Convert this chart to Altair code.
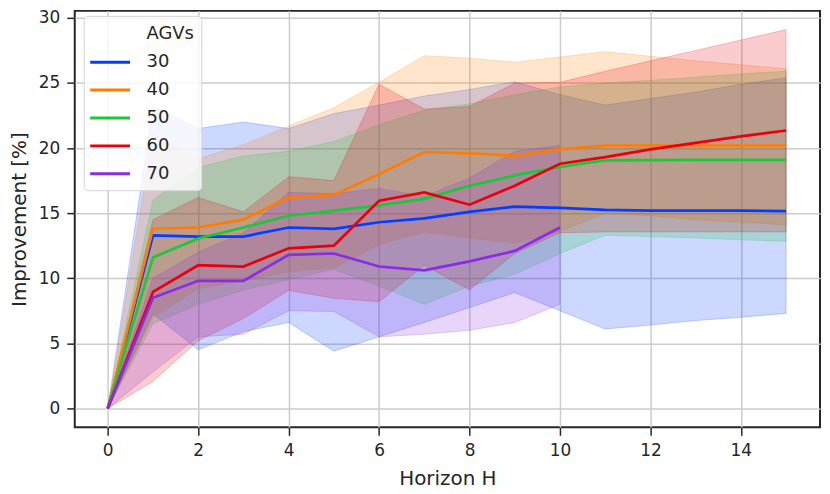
import altair as alt
import pandas as pd

# Horizon values
horizon = list(range(16))
agv_groups = ["30", "40", "50", "60", "70"]

# mean improvement per AGV count
mean_30 = [0, 13.3, 13.2, 13.2, 13.9, 13.8, 14.3, 14.6, 15.1, 15.5, 15.4, 15.25, 15.2, 15.2, 15.2, 15.15]
mean_40 = [0, 13.8, 13.9, 14.5, 16.2, 16.4, 18.0, 19.7, 19.6, 19.4, 19.9, 20.2, 20.2, 20.2, 20.2, 20.2]
mean_50 = [0, 11.6, 13.05, 13.9, 14.8, 15.2, 15.6, 16.1, 17.1, 17.9, 18.55, 19.05, 19.07, 19.1, 19.1, 19.1]
mean_60 = [0, 8.95, 11.0, 10.9, 12.3, 12.5, 15.95, 16.6, 15.65, 17.1, 18.8, 19.3, 19.9, 20.4, 20.9, 21.35]
mean_70 = [0, 8.5, 9.8, 9.8, 11.8, 11.9, 10.9, 10.6, 11.3, 12.1, 13.9]

# band upper bounds
upper_30 = [0, 23.2, 21.5, 22.0, 21.5, 22.65, 23.3, 24.0, 24.5, 25.1, 24.1, 23.3, 23.8, 24.3, 24.9, 25.4]
upper_40 = [0, 21.1, 19.2, 20.25, 21.7, 23.1, 25.05, 27.1, 26.9, 26.6, 27.0, 27.4, 27.05, 26.7, 26.4, 26.1]
upper_50 = [0, 16.0, 18.5, 19.4, 19.75, 20.5, 21.8, 22.9, 23.4, 24.1, 24.7, 25.0, 25.2, 25.45, 25.7, 25.9]
upper_60 = [0, 14.5, 16.2, 15.1, 17.8, 17.5, 24.9, 23.0, 23.2, 25.0, 25.05, 25.9, 26.7, 27.5, 28.3, 29.1]
upper_70 = [0, 10.0, 12.0, 13.5, 16.6, 16.5, 16.9, 16.3, 17.7, 19.75, 20.2]

# band lower bounds
lower_30 = [0, 7.25, 4.5, 5.9, 6.6, 4.4, 5.5, 6.6, 7.75, 8.9, 7.5, 6.1, 6.4, 6.75, 7.0, 7.3]
lower_40 = [0, 7.0, 9.2, 9.8, 10.5, 10.8, 12.6, 13.56, 13.1, 12.7, 13.6, 15.0, 14.8, 14.5, 14.3, 14.1]
lower_50 = [0, 6.5, 8.0, 9.1, 9.9, 10.7, 9.4, 8.0, 9.4, 10.3, 11.9, 13.3, 13.2, 13.1, 12.95, 12.85]
lower_60 = [0, 2.07, 5.2, 6.9, 9.07, 8.46, 8.2, 11.0, 9.1, 11.9, 13.5, 13.56, 13.56, 13.56, 13.56, 13.56]
lower_70 = [0, 2.8, 5.5, 5.7, 7.5, 7.45, 5.5, 5.7, 6.0, 6.6, 8.0]

means = [mean_30, mean_40, mean_50, mean_60, mean_70]
uppers = [upper_30, upper_40, upper_50, upper_60, upper_70]
lowers = [lower_30, lower_40, lower_50, lower_60, lower_70]

rows = []
for g, m, lo, hi in zip(agv_groups, means, lowers, uppers):
    for i in range(len(m)):
        rows.append({"H": horizon[i], "AGVs": g, "mean": m[i], "lo": lo[i], "hi": hi[i]})
df = pd.DataFrame(rows)

color_domain = ["AGVs"] + agv_groups
color_range = ["transparent", "#023eff", "#ff7c00", "#1ac938", "#e8000b", "#8b2be2"]
cscale = alt.Scale(domain=color_domain, range=color_range)

xscale = alt.Scale(domain=[-0.73, 15.75], nice=False, zero=False)
yscale = alt.Scale(domain=[-1.454, 30.54], nice=False, zero=False)

xaxis = alt.Axis(values=[0, 2, 4, 6, 8, 10, 12, 14], title="Horizon H",
                 titleBaseline="alphabetic", titleY=57, labelPadding=7)
yaxis = alt.Axis(values=[0, 5, 10, 15, 20, 25, 30], title="Improvement [%]",
                 titleBaseline="alphabetic", titleX=-49, labelPadding=7)

base = alt.Chart(df)

bands = base.mark_area(fillOpacity=0.2, strokeOpacity=0.22, strokeWidth=1).encode(
    x=alt.X("H:Q", scale=xscale, axis=xaxis),
    y=alt.Y("lo:Q", scale=yscale, axis=yaxis),
    y2="hi:Q",
    color=alt.Color("AGVs:N", scale=cscale, legend=None),
    stroke=alt.Stroke("AGVs:N", scale=cscale, legend=None),
)

lines = base.mark_line(strokeWidth=2.7).encode(
    x=alt.X("H:Q", scale=xscale, axis=xaxis),
    y=alt.Y("mean:Q", scale=yscale, axis=yaxis),
    color=alt.Color(
        "AGVs:N", scale=cscale,
        legend=alt.Legend(
            title=None, orient="none", legendX=9, legendY=5,
            symbolType="M-2,0H2", symbolSize=400, symbolStrokeWidth=3,
            symbolOffset=8,
            labelFontSize=18, labelFont="DejaVu Sans", labelColor="#262626",
            labelOffset=25, rowPadding=7, padding=7,
            strokeColor="#d4d4d4", fillColor="rgba(255,255,255,0.8)",
            cornerRadius=4,
        ),
    ),
)

chart = alt.layer(bands, lines).resolve_legend(
    color="independent", stroke="independent"
).properties(
    width=748, height=418,
    background="white",
    autosize=alt.AutoSizeParams(type="none"),
    padding={"left": 67, "top": 2, "right": 2, "bottom": 61},
).configure_view(
    stroke="#262626", strokeWidth=2
).configure_axis(
    domain=False, grid=True, gridColor="#cccccc", gridWidth=1.5,
    tickColor="#262626", tickWidth=1.5, tickSize=8,
    labelFont="DejaVu Sans", labelFontSize=17, labelColor="#262626",
    titleFont="DejaVu Sans", titleFontSize=20, titleFontWeight="normal",
    titleColor="#262626",
)

chart.save("out.html", embed_options={"renderer": "svg", "actions": False})
